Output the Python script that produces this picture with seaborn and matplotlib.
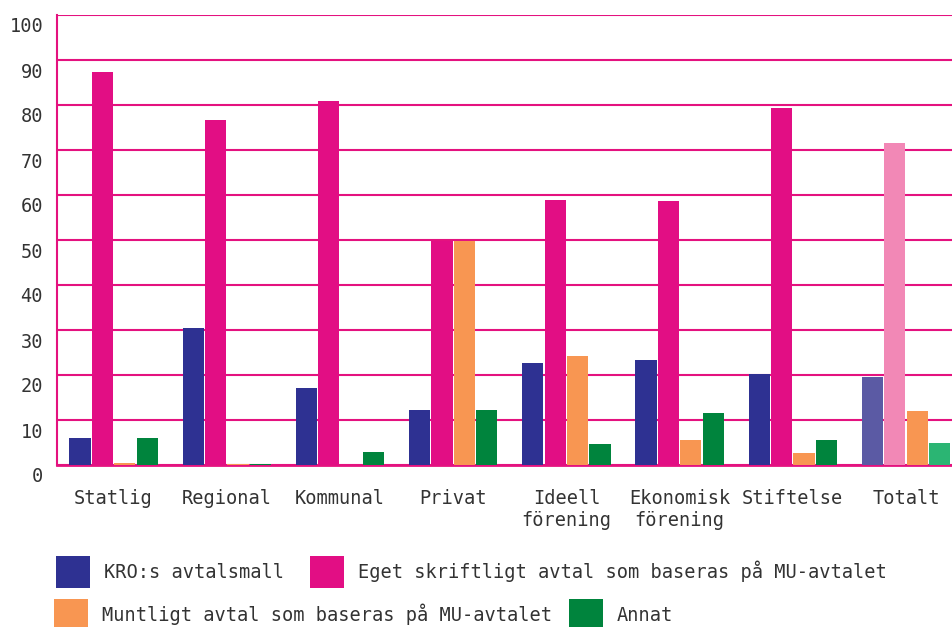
import pandas as pd
import matplotlib
matplotlib.use("Agg")
import matplotlib.pyplot as plt
from matplotlib.patches import Patch
from matplotlib.transforms import ScaledTranslation
import seaborn as sns

# Kategorier och serier
kategorier = ["Statlig", "Regional", "Kommunal", "Privat", "Ideell\nförening",
              "Ekonomisk\nförening", "Stiftelse", "Totalt"]
serier = ["KRO:s avtalsmall", "Eget skriftligt avtal som baseras på MU-avtalet",
          "Muntligt avtal som baseras på MU-avtalet", "Annat"]

kro = [6.0, 30.4, 17.1, 12.2, 22.7, 23.3, 20.2, 19.6]
eget = [87.3, 76.7, 80.9, 49.8, 58.9, 58.7, 79.3, 71.6]
muntligt = [0.4, 0.3, 0.0, 49.8, 24.2, 5.6, 2.7, 12.0]
annat = [6.0, 0.3, 2.9, 12.2, 4.7, 11.6, 5.6, 4.9]

farger = ["#2E3192", "#E20E84", "#F89652", "#00843D"]
farger_totalt = ["#5B5AA4", "#F288B6", "#F89652", "#2BB573"]

ROSA = "#E4127F"
TEXT = "#333333"

df = pd.DataFrame({
    "kategori": kategorier * 4,
    "typ": [s for s in serier for _ in kategorier],
    "andel": kro + eget + muntligt + annat,
})

sns.set_style("white")
plt.rcParams["font.family"] = ["DejaVu Sans Mono", "DejaVu Sans"]
FS = 13.4

fig = plt.figure(figsize=(9.52, 6.27), dpi=100)
ax = fig.add_axes([57 / 952, 162 / 627, 905.6 / 952, 450 / 627])

sns.barplot(data=df, x="kategori", y="andel", hue="typ", palette=farger,
            width=0.79, gap=0.05, legend=False, ax=ax, zorder=3,
            linewidth=0, saturation=1)

# Totalt-gruppen i ljusare färger
for cont, f in zip(ax.containers, farger_totalt):
    cont.patches[7].set_facecolor(f)

ax.set_xlim(-0.5, 7.5)
ax.set_ylim(0, 100)
ax.set_yticks(range(0, 101, 10))
ax.set_xlabel("")
ax.set_ylabel("")
ax.grid(axis="y", color=ROSA, linewidth=1.5, zorder=0)
ax.set_axisbelow(True)

for side in ["top", "right"]:
    ax.spines[side].set_visible(False)
ax.spines["left"].set_color(ROSA)
ax.spines["left"].set_linewidth(1.5)
ax.spines["bottom"].set_color(ROSA)
ax.spines["bottom"].set_linewidth(2)

ax.tick_params(axis="y", length=0, pad=10, labelsize=FS, labelcolor=TEXT)
ax.tick_params(axis="x", which="major", length=0, pad=17.5, labelsize=FS, labelcolor=TEXT)
ax.set_xticks([i + 0.5 for i in range(7)], minor=True)
ax.tick_params(axis="x", which="minor", direction="in", length=8, width=1.5, color=ROSA)

# y-etiketterna sitter lite under stödlinjerna
for lab in ax.get_yticklabels():
    lab.set_transform(lab.get_transform() + ScaledTranslation(0, -0.1, fig.dpi_scale_trans))

handles = [Patch(facecolor=c, edgecolor="none") for c in farger]
leg_kw = dict(frameon=False, fontsize=FS, handlelength=1.83, handleheight=2.27,
              handletextpad=0.75, columnspacing=1.4, borderpad=0, borderaxespad=0,
              ncol=2, loc="center left", labelcolor=TEXT)
leg1 = fig.legend(handles[:2], serier[:2], bbox_to_anchor=(56 / 952, 55 / 627), **leg_kw)
leg2 = fig.legend(handles[2:], serier[2:], bbox_to_anchor=(54 / 952, 12 / 627),
                  **{**leg_kw, "columnspacing": 0.9})

fig.savefig("out.png", dpi=100)
